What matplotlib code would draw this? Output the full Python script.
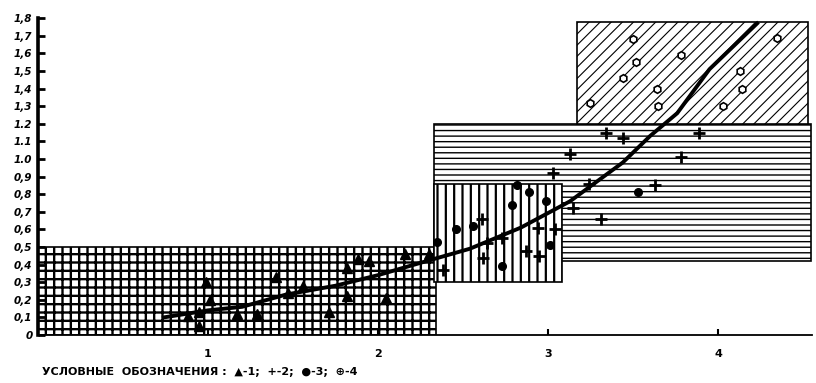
import matplotlib
matplotlib.use("Agg")
from matplotlib import pyplot as plt
from matplotlib.patches import Rectangle

# fitted curve, read point by point
curve_x = [0.74, 1.0, 1.2, 1.46, 1.75, 2.0, 2.25, 2.54, 2.84, 3.13, 3.44, 3.6, 3.76, 3.95, 4.23]
curve_y = [0.10, 0.14, 0.16, 0.23, 0.28, 0.34, 0.41, 0.49, 0.61, 0.76, 0.98, 1.13, 1.26, 1.51, 1.77]

# series 1 (triangles)
tri_x = [0.88, 0.95, 0.95, 0.99, 1.01, 1.17, 1.29, 1.40, 1.47, 1.56, 1.71, 1.82, 1.82, 1.88, 1.95, 2.05, 2.16, 2.30]
tri_y = [0.11, 0.13, 0.05, 0.30, 0.20, 0.12, 0.12, 0.33, 0.24, 0.28, 0.13, 0.22, 0.38, 0.43, 0.42, 0.21, 0.46, 0.46]

# series 2 (crosses)
plus_x = [2.38, 2.61, 2.64, 2.62, 2.73, 2.87, 2.95, 2.94, 3.04, 3.03, 3.13, 3.15, 3.24,
          3.31, 3.34, 3.44, 3.63, 3.78, 3.89]
plus_y = [0.37, 0.66, 0.52, 0.44, 0.55, 0.48, 0.45, 0.61, 0.60, 0.92, 1.03, 0.72, 0.86,
          0.66, 1.15, 1.12, 0.85, 1.01, 1.15]

# series 3 (filled dots)
dot_x = [2.35, 2.46, 2.56, 2.73, 2.79, 2.82, 2.89, 2.99, 3.01, 3.53]
dot_y = [0.53, 0.60, 0.62, 0.39, 0.74, 0.85, 0.81, 0.76, 0.51, 0.81]

# series 4 (open circles)
ring_x = [3.25, 3.44, 3.50, 3.52, 3.64, 3.65, 3.78, 4.03, 4.13, 4.14, 4.35]
ring_y = [1.32, 1.46, 1.68, 1.55, 1.40, 1.30, 1.59, 1.30, 1.50, 1.40, 1.69]

# shaded regions: (x0, x1, y0, y1, hatch, hatch line width)
zones = [
    (0.0, 2.34, 0.0, 0.50, '++', 1.7),
    (2.33, 4.55, 0.42, 1.20, '---', 1.0),
    (2.33, 3.08, 0.30, 0.86, '||', 1.6),
    (3.17, 4.53, 1.20, 1.78, '///', 0.8),
]

ytick_vals = [0, 0.1, 0.2, 0.3, 0.4, 0.5, 0.6, 0.7, 0.8, 0.9, 1.0, 1.1, 1.2,
              1.3, 1.4, 1.5, 1.6, 1.7, 1.8]
ytick_text = ['0', '0,1', '0,2', '0,3', '0,4', '0,5', '0,6', '0,7', '0,8', '0,9',
              '1.0', '1.1', '1.2', '1,3', '1,4', '1,5', '1,6', '1,7', '1,8']
xtick_vals = [1, 2, 3, 4]
xtick_text = ['1', '2', '3', '4']

legend_text = 'УСЛОВНЫЕ  ОБОЗНАЧЕНИЯ :  ▲-1;  +-2;  ●-3;  ⊕-4'

fig = plt.figure(figsize=(8.16, 3.83), dpi=100)
ax = fig.add_axes([38 / 816, 48 / 383, 774 / 816, 320 / 383])
ax.set_xlim(0, 4.553)
ax.set_ylim(0, 1.818)

for x0, x1, y0, y1, h, hw in zones:
    with plt.rc_context({'hatch.linewidth': hw}):
        ax.add_patch(Rectangle((x0, y0), x1 - x0, y1 - y0, facecolor='white',
                               edgecolor='black', hatch=h, linewidth=1.2, zorder=1))

ax.plot(curve_x, curve_y, color='black', linewidth=2.8, zorder=5)

ax.plot(tri_x, tri_y, linestyle='none', marker='^', markersize=7,
        color='black', zorder=6)
ax.plot(plus_x, plus_y, linestyle='none', marker='+', markersize=9,
        markeredgewidth=2, color='black', zorder=6)
ax.plot(dot_x, dot_y, linestyle='none', marker='o', markersize=5.5,
        color='black', zorder=6)
ax.plot(ring_x, ring_y, linestyle='none', marker='h', markersize=5.5,
        markerfacecolor='white', markeredgecolor='black', markeredgewidth=1.2,
        zorder=6)

ax.spines['top'].set_visible(False)
ax.spines['right'].set_visible(False)
ax.spines['left'].set_linewidth(2.6)
ax.spines['left'].set_bounds(0, 1.8)
ax.spines['bottom'].set_linewidth(1.3)

ax.set_yticks(ytick_vals)
ax.set_yticklabels(ytick_text, fontsize=7.5, fontweight='bold', fontstyle='italic')
ax.tick_params(axis='y', direction='in', length=5, width=2, pad=4)

ax.set_xticks(xtick_vals)
ax.set_xticklabels(xtick_text, fontsize=8, fontweight='bold')
ax.tick_params(axis='x', direction='in', length=4, width=1.5, pad=10)

# legend line under the axis
fig.text(42 / 816, 1 - 372 / 383, legend_text, fontsize=8, fontweight='bold',
         va='center', ha='left')

fig.savefig('out.png', dpi=100)
